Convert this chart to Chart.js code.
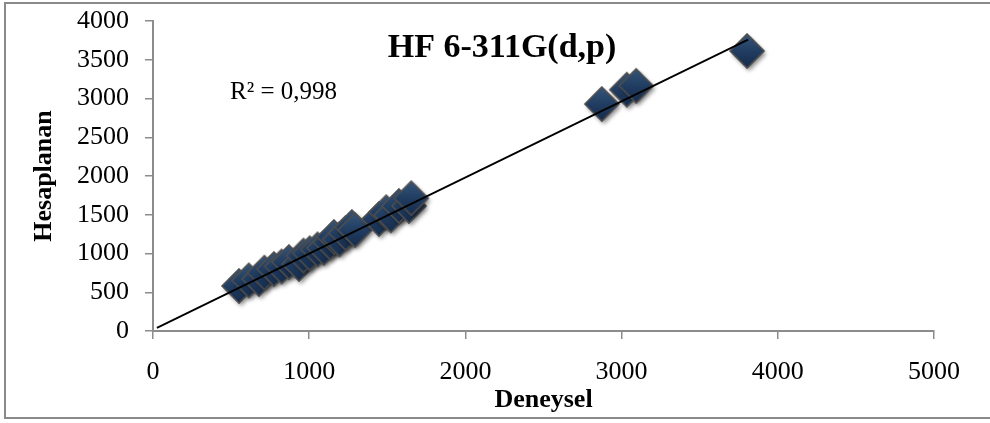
<!DOCTYPE html>
<html>
<head>
<meta charset="utf-8">
<script src="https://cdn.jsdelivr.net/npm/chart.js@4/dist/chart.umd.min.js"></script>
<style>
    html, body { margin: 0; padding: 0; background: #fff; }
    #wrap { width: 990px; height: 423px; position: relative; }
</style>
</head>
<body>
<div id="wrap"><canvas id="chart"></canvas></div>
<script>
// Datos (Deneysel vs Hesaplanan)
const deneysel = [557, 620, 685, 720, 781, 830, 877, 941, 970, 1010, 1060, 1100, 1140, 1165,
    1200, 1240, 1280, 1300, 1453, 1500, 1530, 1581, 1645, 1660, 2880, 3040, 3100, 3810];
const hesaplanan = [568, 640, 658, 740, 787, 820, 877, 852, 960, 990, 1040, 1060, 1130, 1200,
    1170, 1250, 1329, 1290, 1432, 1520, 1480, 1600, 1600, 1700, 2916, 3100, 3150, 3600];

// Línea de tendencia (extremos leídos)
const trendX = [25, 3810];
const trendY = [40, 3760];

const xTicks = [0, 1000, 2000, 3000, 4000, 5000];
const yTicks = [0, 500, 1000, 1500, 2000, 2500, 3000, 3500, 4000];

const chartTitle = "HF 6-311G(d,p)";
const r2Text = "R² = 0,998";
const xTitle = "Deneysel";
const yTitle = "Hesaplanan";

const SERIF = "'Liberation Serif', 'Times New Roman', serif";
const AXIS_GRAY = "#8c8c8c";

// Diamante con degradado y sombra
function makeDiamond() {
    const c = document.createElement("canvas");
    c.width = 50; c.height = 50;
    const ctx = c.getContext("2d");
    const cx = 24, cy = 24, r = 17;
    const path = () => {
        ctx.beginPath();
        ctx.moveTo(cx, cy - r);
        ctx.lineTo(cx + r, cy);
        ctx.lineTo(cx, cy + r);
        ctx.lineTo(cx - r, cy);
        ctx.closePath();
    };
    ctx.save();
    ctx.shadowColor = "rgba(0,0,0,0.45)";
    ctx.shadowBlur = 4;
    ctx.shadowOffsetX = 2;
    ctx.shadowOffsetY = 3;
    path();
    const g = ctx.createLinearGradient(cx, cy - r, cx, cy + r);
    g.addColorStop(0, "#365579");
    g.addColorStop(0.5, "#213d62");
    g.addColorStop(1, "#152b4a");
    ctx.fillStyle = g;
    ctx.fill();
    ctx.restore();
    ctx.lineWidth = 1.6;
    ctx.strokeStyle = "#4e4e4e";
    path();
    ctx.stroke();
    return c;
}

const framePlugin = {
    id: "frame",
    beforeDraw(chart) {
        const ctx = chart.ctx;
        ctx.save();
        ctx.fillStyle = "#fff";
        ctx.fillRect(0, 0, chart.width, chart.height);
        ctx.strokeStyle = "#8a8a8a";
        ctx.lineWidth = 2;
        ctx.strokeRect(5, 3, 1000, 415);
        ctx.restore();
    },
    afterDraw(chart) {
        const ctx = chart.ctx;
        ctx.save();
        ctx.fillStyle = "#000";
        ctx.textBaseline = "middle";
        ctx.textAlign = "center";
        ctx.font = "bold 34px " + SERIF;
        ctx.fillText(chartTitle, 502, 48);
        ctx.textAlign = "left";
        ctx.font = "25px " + SERIF;
        ctx.fillText(r2Text, 230, 92);
        ctx.restore();
    }
};

new Chart(document.getElementById("chart"), {
    type: "scatter",
    data: {
        datasets: [
            {
                type: "line",
                label: "Tendencia",
                data: trendX.map((x, i) => ({ x: x, y: trendY[i] })),
                borderColor: "#000",
                borderWidth: 1.8,
                pointRadius: 0,
                fill: false,
                order: 0
            },
            {
                label: "Datos",
                data: deneysel.map((x, i) => ({ x: x, y: hesaplanan[i] })),
                pointStyle: makeDiamond(),
                pointRadius: 17,
                order: 1
            }
        ]
    },
    plugins: [framePlugin],
    options: {
        responsive: true,
        maintainAspectRatio: false,
        animation: false,
        layout: { padding: { left: 0, right: 56, top: 21, bottom: 0 } },
        plugins: {
            legend: { display: false },
            tooltip: { enabled: false }
        },
        scales: {
            x: {
                type: "linear",
                min: 0,
                max: 5000,
                afterBuildTicks: (s) => { s.ticks = xTicks.map(v => ({ value: v })); },
                afterFit: (s) => { s.height = 423 - 331; },
                border: { color: AXIS_GRAY, width: 2 },
                grid: { drawOnChartArea: false, color: AXIS_GRAY, lineWidth: 1.5, tickLength: 8 },
                ticks: { color: "#000", padding: 18, font: { family: SERIF, size: 26 }, maxRotation: 0,
                         callback: (v) => String(v) },
                title: { display: true, text: xTitle, color: "#000", padding: { bottom: 7 },
                         font: { family: SERIF, size: 26, weight: "bold" } }
            },
            y: {
                type: "linear",
                min: 0,
                max: 4000,
                afterBuildTicks: (s) => { s.ticks = yTicks.map(v => ({ value: v })); },
                afterFit: (s) => { s.width = 153; s.paddingTop = 0; s.paddingBottom = 0; },
                border: { color: AXIS_GRAY, width: 2 },
                grid: { drawOnChartArea: false, color: AXIS_GRAY, lineWidth: 1.5, tickLength: 8 },
                ticks: { color: "#000", padding: 16, font: { family: SERIF, size: 26 },
                         callback: (v) => String(v) },
                title: { display: true, text: yTitle, color: "#000", padding: { top: 29 },
                         font: { family: SERIF, size: 26, weight: "bold" } }
            }
        }
    }
});
</script>
</body>
</html>
